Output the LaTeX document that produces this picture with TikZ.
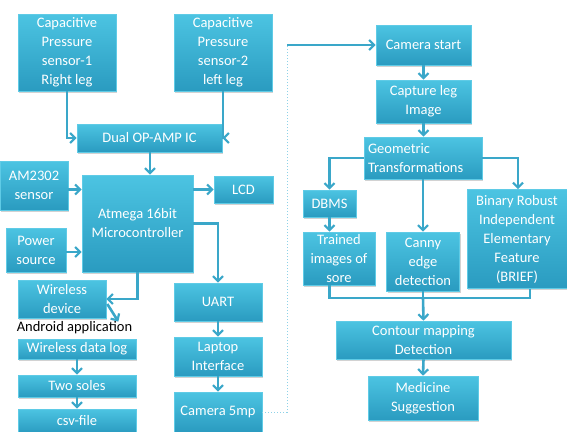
\documentclass[tikz,border=0pt]{standalone}
\usepackage{fontspec}
\setmainfont{Carlito}
\usetikzlibrary{arrows.meta,shadows,calc}
\definecolor{boxtop}{HTML}{4CC4E2}
\definecolor{boxbot}{HTML}{2A9BC0}
\definecolor{boxline}{HTML}{5FCBE6}
\definecolor{arrc}{HTML}{3AA7C9}
\definecolor{dotc}{HTML}{8ED2E8}
\tikzset{
  box/.style={rectangle, top color=boxtop, bottom color=boxbot, draw=boxline, line width=0.6pt,
    text=white, align=center, inner sep=1pt, font=\fontsize{14.5}{19}\selectfont,
    drop shadow={opacity=0.35, shadow xshift=1.2pt, shadow yshift=-1.5pt}},
  arr/.style={draw=arrc, line width=2.6pt, -{Straight Barb[length=5pt,width=10pt,line width=2.2pt]}},
  ln/.style={draw=arrc, line width=2.6pt},
  dotl/.style={draw=dotc, line width=1pt, dotted},
}
\begin{document}
\begin{tikzpicture}[x=1pt,y=-1pt]
\useasboundingbox[fill=white] (0,0) rectangle (567,431);
% left part
\node[box, minimum width=98pt, minimum height=77pt] (s1) at (67,52.5) {Capacitive\\Pressure\\sensor-1\\Right leg};
\node[box, minimum width=98pt, minimum height=77pt] (s2) at (223,52.5) {Capacitive\\Pressure\\sensor-2\\left leg};
\node[box, minimum width=145pt, minimum height=28pt] (op) at (149.5,138) {Dual OP-AMP IC};
\node[box, minimum width=68pt, minimum height=49pt] (am) at (34,185.5) {AM2302\\sensor};
\node[box, minimum width=111pt, minimum height=97pt] (at) at (137.5,223.5) {Atmega 16bit\\Microcontroller};
\node[box, minimum width=59pt, minimum height=27pt] (lcd) at (243.5,189.5) {LCD};
\node[box, minimum width=60pt, minimum height=44pt] (pw) at (36,250) {Power\\source};
\node[box, minimum width=88pt, minimum height=38pt] (wd) at (62,299) {Wireless\\device};
\node[text=black, font=\fontsize{14.5}{19}\selectfont, inner sep=1pt] (andr) at (74.5,328) {Android application};
\node[box, minimum width=118pt, minimum height=20pt] (wdl) at (77,349) {Wireless data log};
\node[box, minimum width=118pt, minimum height=22pt] (ts) at (77,386) {Two soles};
\node[box, minimum width=118pt, minimum height=24pt] (csv) at (77,421) {csv-file};
\node[box, minimum width=88pt, minimum height=38pt] (uart) at (218,302) {UART};
\node[box, minimum width=88pt, minimum height=39pt] (lap) at (218,356.5) {Laptop\\Interface};
\node[box, minimum width=88pt, minimum height=40pt] (cam) at (218,412) {Camera 5mp};
% right part
\node[box, minimum width=95pt, minimum height=40pt] (cs) at (423.5,45) {Camera start};
\node[box, minimum width=95pt, minimum height=43pt] (cap) at (423.5,101.5) {Capture leg\\Image};
\node[box, minimum width=118pt, minimum height=42pt, align=left, text width=110pt] (geo) at (423,158) {Geometric\\Transformations};
\node[box, minimum width=53pt, minimum height=27pt] (dbms) at (329.5,203.5) {DBMS};
\node[box, minimum width=72pt, minimum height=53pt] (tr) at (339,258.5) {Trained\\images of\\sore};
\node[box, minimum width=73pt, minimum height=59pt] (can) at (423,261.5) {Canny\\edge\\detection};
\node[box, minimum width=100pt, minimum height=99pt] (br) at (517,239) {Binary Robust\\Independent\\Elementary\\Feature\\(BRIEF)};
\node[box, minimum width=175pt, minimum height=38pt] (con) at (423.5,340) {Contour mapping\\Detection};
\node[box, minimum width=110pt, minimum height=44pt] (med) at (423,398) {Medicine\\Suggestion};
% connectors left
\draw[arr] (s1.south) |- (op.west);
\draw[arr] (s2.south) |- (op.east);
\draw[arr] ([xshift=0.5pt]op.south) -- ([xshift=0.5pt]op.south |- at.north);
\draw[arr] ([yshift=-4pt]am.east) -- ([yshift=-4pt]am.east -| at.west);
\draw[arr] (at.east |- lcd.west) -- (lcd.west);
\draw[arr] ([yshift=-2pt]pw.east) -- ([yshift=-2pt]pw.east -| at.west);
\draw[arr] (at.south) |- (wd.east);
\draw[arr] ([xshift=1pt,yshift=-5pt]wd.east) -- ([xshift=-15pt,yshift=-1pt]andr.north east);
\draw[arr] (wdl.south) -- (ts.north);
\draw[arr] (ts.south) -- (csv.north);
\draw[arr] (at.east) -| (uart.north);
\draw[arr] (uart.south) -- (lap.north);
\draw[arr] (lap.south) -- (cam.north);
\coordinate (d1) at ($(cam.east)+(25,0)$);
\coordinate (d2) at (d1 |- cs.west);
\draw[dotl] (cam.east) -- (d1) -- (d2);
\draw[arr] (d2) -- (cs.west);
% connectors right
\draw[arr] (cs.south) -- (cap.north);
\draw[arr] (cap.south) -- (cap.south |- geo.north);
\draw[arr] (geo.west) -| (dbms.north);
\draw[arr] (geo.east) -| ([xshift=1pt]br.north);
\draw[arr] (geo.south) -- (can.north);
\draw[arr] (dbms.south) -- (dbms.south |- tr.north);
\coordinate (m) at (423,298);
\draw[ln] (dbms.south |- tr.south) |- (m);
\draw[ln] ([xshift=13pt]br.south) |- (m);
\draw[ln] (can.south) -- (m);
\draw[arr] (m) -- (con.north);
\draw[arr] (con.south) -- (med.north);
\end{tikzpicture}
\end{document}
